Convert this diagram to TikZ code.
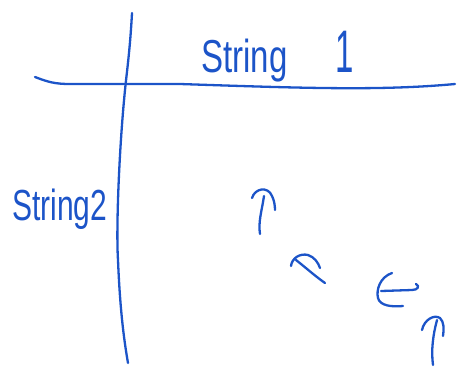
\documentclass[tikz,border=0pt]{standalone}
\usepackage{fontspec}
\setmainfont{Liberation Sans}
\definecolor{pen}{RGB}{28,84,200}
\begin{document}
\begin{tikzpicture}[x=1pt,y=-1pt,
  ink/.style={draw=pen,line width=2.3pt,line cap=round,line join=round},
  label/.style={text=pen,inner sep=0pt}]
\useasboundingbox (0,0) rectangle (460,368);
% grid lines
\draw[ink] (35,77) .. controls (48,82) and (55,84) .. (70,84) -- (180,84) .. controls (300,88) and (380,91) .. (455,84);
\draw[ink] (132,13) .. controls (130,50) and (127,70) .. (125,90) .. controls (119,150) and (116,230) .. (118,260) .. controls (120,310) and (124,340) .. (128,363);
% labels
\node[label,anchor=base west,font=\fontsize{33}{36}\selectfont] (s1) at (201,72) {\scalebox{1}[1.4]{String\hspace*{48pt}\scalebox{1}[1.3]{1}}};
\node[label,anchor=base west,font=\fontsize{30}{34}\selectfont] (s2) at (12,220) {\scalebox{1}[1.45]{String2}};
% arrow 1: up
\draw[ink] (252,198) .. controls (255,188) and (268,186) .. (272,196) .. controls (274,200) and (275,205) .. (275,210);
\draw[ink] (264,196) .. controls (262,210) and (258,222) .. (260,234);
% arrow 2: diagonal up-left
\draw[ink] (291,266) .. controls (292,258) and (300,253) .. (308,255) .. controls (314,257) and (318,262) .. (320,268);
\draw[ink] (296,260) .. controls (305,267) and (315,276) .. (325,283);
% arrow 3: left
\draw[ink] (392,273) .. controls (380,277) and (376,290) .. (378,298) .. controls (380,306) and (392,307) .. (403,306);
\draw[ink] (381,291) -- (412,290) .. controls (418,290) and (420,286) .. (416,284);
% arrow 4: up
\draw[ink] (422,330) .. controls (424,320) and (434,314) .. (440,318) .. controls (444,322) and (444,328) .. (443,336);
\draw[ink] (437,320) .. controls (433,335) and (431,350) .. (433,365);
\end{tikzpicture}
\end{document}
